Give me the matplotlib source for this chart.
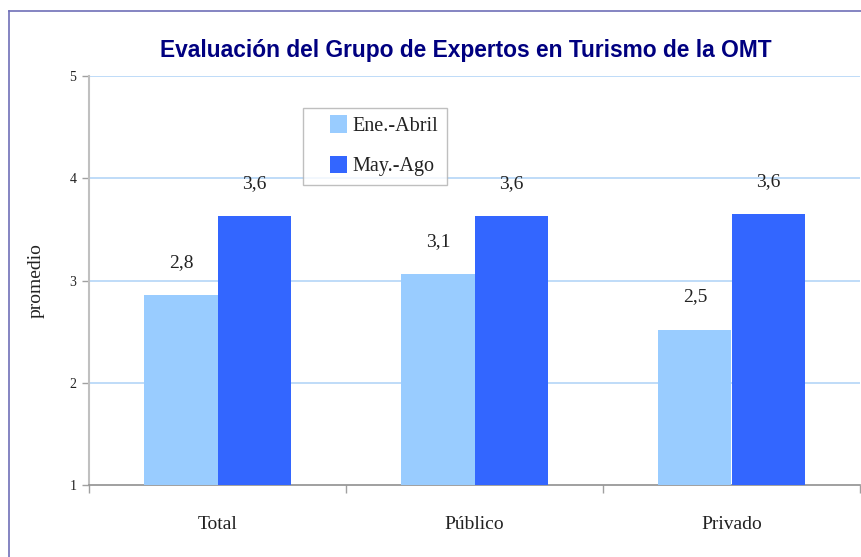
import matplotlib
matplotlib.use("Agg")
import matplotlib.pyplot as plt
import numpy as np
from matplotlib.lines import Line2D
from matplotlib.patches import Rectangle
from matplotlib.legend_handler import HandlerPatch

categories = ["Total", "Público", "Privado"]
series_names = ["Ene.-Abril", "May.-Ago"]
ene_abril = [2.86, 3.06, 2.52]
may_ago = [3.63, 3.63, 3.65]
ene_labels = ["2,8", "3,1", "2,5"]
may_labels = ["3,6", "3,6", "3,6"]
yticks = [1, 2, 3, 4, 5]

W, H = 861, 557
fig = plt.figure(figsize=(W / 100, H / 100), dpi=100)
serif = "Liberation Serif"

def fx(px):
    return px / W

def fy(py):
    return 1 - py / H

# outer frame (left and top edges visible)
frame_col = "#7070b8"
fig.add_artist(Line2D([fx(8.5), fx(8.5)], [fy(11), 0], color=frame_col, lw=1.2, transform=fig.transFigure))
fig.add_artist(Line2D([fx(8.5), 1], [fy(11), fy(11)], color=frame_col, lw=1.2, transform=fig.transFigure))

ax = fig.add_axes([fx(89), fy(485), fx(860) - fx(89), fy(76) - fy(485)])
x = np.arange(len(categories))
bw = 0.285
light = "#99ccff"
dark = "#3366ff"
b1 = ax.bar(x - bw / 2, [v - 1 for v in ene_abril], bw, bottom=1, color=light, label=series_names[0], zorder=3)
b2 = ax.bar(x + bw / 2, [v - 1 for v in may_ago], bw, bottom=1, color=dark, label=series_names[1], zorder=3)

for xi, v, t in zip(x, ene_abril, ene_labels):
    ax.text(xi - bw / 2, v + 0.32, t, ha="center", va="center", fontsize=14, family=serif, color="#222222")
for xi, v, t in zip(x, may_ago, may_labels):
    ax.text(xi + bw / 2, v + 0.32, t, ha="center", va="center", fontsize=14, family=serif, color="#222222")

ax.set_xlim(-0.5, 2.5)
ax.set_ylim(1, 5)
ax.set_yticks(yticks)
ax.set_yticklabels([str(t) for t in yticks], family=serif, fontsize=10, color="#222222")
for t in yticks[1:]:
    ax.axhline(t, color="#b4d6f7", lw=1.2, zorder=1)

ax.set_xticks([-0.5, 0.5, 1.5, 2.5])
ax.set_xticklabels([])
ax.set_xticks(x, minor=True)
ax.set_xticklabels(categories, minor=True, family=serif, fontsize=14, color="#222222")
ax.tick_params(axis="x", which="major", direction="out", length=6, color="#a0a0a0", width=1)
ax.tick_params(axis="x", which="minor", length=0, pad=22)
ax.tick_params(axis="y", direction="out", length=5, color="#a0a0a0", width=1, pad=4)

for s in ["top", "right"]:
    ax.spines[s].set_visible(False)
ax.spines["left"].set_color("#c0c0c0")
ax.spines["left"].set_linewidth(1.5)
ax.spines["bottom"].set_color("#909090")
ax.spines["bottom"].set_linewidth(1.2)

ax.set_ylabel("promedio", family=serif, fontsize=14, color="#222222", labelpad=18)

fig.text(fx(466), fy(50), "Evaluación del Grupo de Expertos en Turismo de la OMT",
         ha="center", va="center", fontsize=16.4, fontweight="bold",
         family="Liberation Sans", color="#000080")


def square_right(legend, orig_handle, xdescent, ydescent, width, height, fontsize):
    side = height * 1.25
    return Rectangle((width - xdescent - side, -ydescent + (height - side) / 2), side, side)


proxies = [Rectangle((0, 0), 1, 1, facecolor=light, edgecolor="none"),
           Rectangle((0, 0), 1, 1, facecolor=dark, edgecolor="none")]
leg = fig.legend(handles=proxies, labels=series_names, loc="upper left",
                 bbox_to_anchor=(fx(303), fy(108)), prop={"family": serif, "size": 14.5},
                 frameon=True, fancybox=False, edgecolor="#b0b0b0",
                 handlelength=1.75, handleheight=0.7, handletextpad=0.25,
                 borderpad=0.45, labelspacing=1.05, borderaxespad=0,
                 handler_map={Rectangle: HandlerPatch(patch_func=square_right)})
leg.get_frame().set_linewidth(1.0)
for t in leg.get_texts():
    t.set_color("#222222")

fig.savefig("out.png", dpi=100)
